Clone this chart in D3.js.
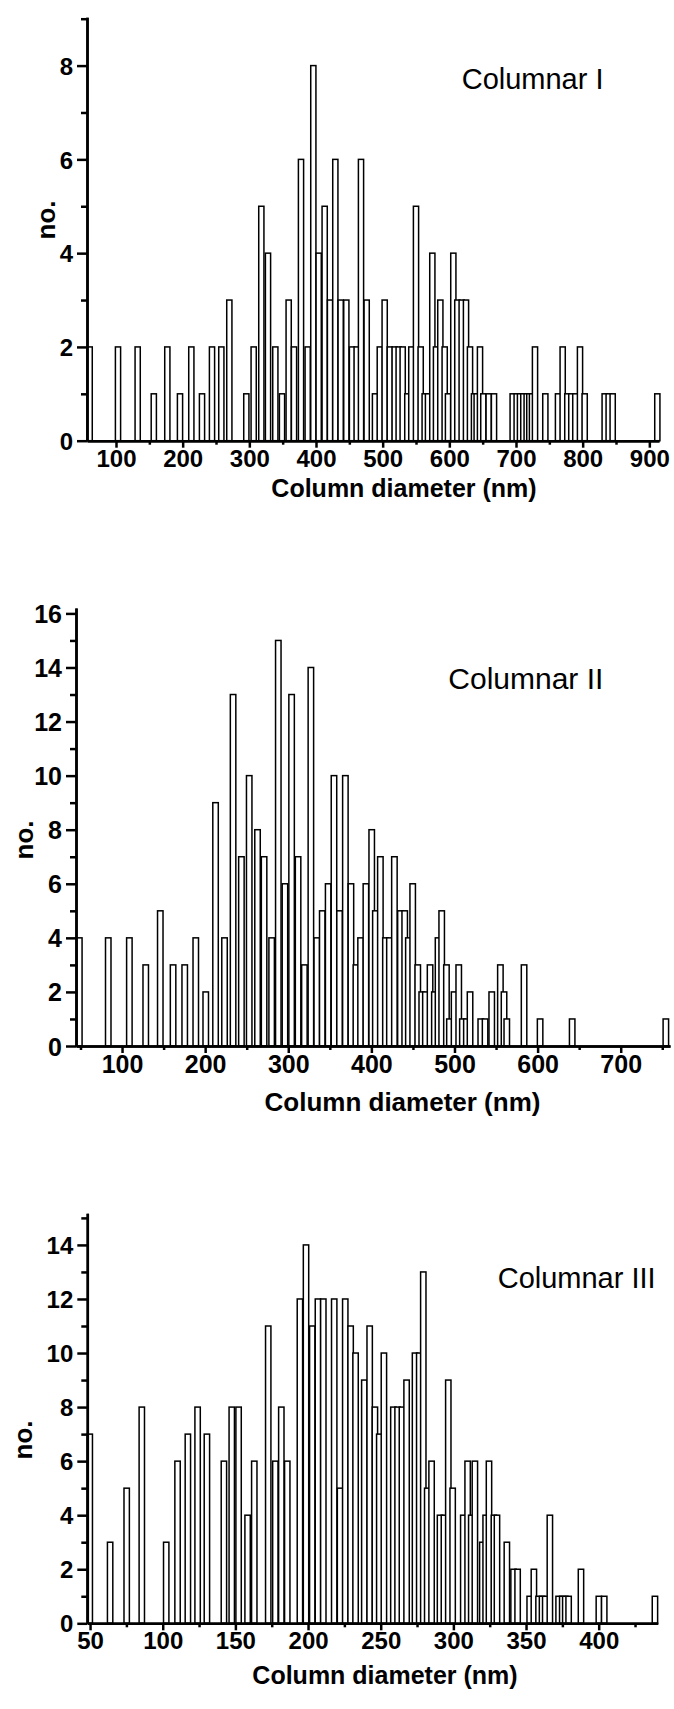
<!DOCTYPE html>
<html>
<head>
<meta charset="utf-8">
<title>Column diameter histograms</title>
<script src="https://cdn.jsdelivr.net/npm/d3@7"></script>
<style>
  html, body { margin:0; padding:0; background:#fff; }
  svg { display:block; font-family:"Liberation Sans", Arial, sans-serif; }
</style>
</head>
<body>
<svg width="674" height="1709"></svg>
<script>
// Columnar I : bar position (nm) and count
const diam1 = [60.5,103,132.5,156.7,177,196,213,229,244,258,
  270,295.5,306.5,318,328,339,349,359,367,377.5,
  387.5,396,404,413,421,429,437,445.5,454,461,
  467.5,476,488.5,495.7,503,510.7,518,524,530,537,
  543,550,557,563,568,574.5,580,586.5,593,598,
  606,612,618.5,625,631,637,641,646,651,659,
  667,695,701,706,711,716,720,724,728.5,744,
  763,770,777,783,789,796,803,833,839,845,912];
const count1 = [2,2,2,1,2,1,2,1,2,2,
  3,1,2,5,4,2,1,3,2,6,
  2,8,4,5,3,6,3,3,2,2,
  6,3,1,2,3,2,2,2,2,1,
  2,5,2,1,1,4,2,3,2,1,
  4,3,3,3,2,1,1,2,1,1,
  1,1,1,1,1,1,1,1,2,1,
  1,2,1,1,1,2,1,1,1,1,1];

// Columnar II
const diam2 = [48.6,83.4,108.8,128.5,146,161.4,175.4,188.7,200.7,212.5,
  223.3,233.6,243.6,253,263,270.9,280,288,296,304,
  311.8,319.4,327.2,334.3,340.9,348,355,361.7,368.7,375.4,
  381.4,387,393.4,400.4,404.8,410.8,416.9,421.7,427.7,434.9,
  440.1,444.5,449.7,455.8,460.6,465,470.6,475.8,480.2,484.6,
  490.3,493.9,499.5,505.1,509.5,514.3,518.7,531.6,536.8,544.8,
  555.2,559.6,562.9,583.7,603,641.6,754.3];
const count2 = [4,4,4,3,5,3,3,4,2,9,
  4,13,7,10,8,7,4,15,6,13,
  7,3,14,4,5,6,10,5,10,6,
  3,4,6,8,5,7,4,4,7,5,
  5,4,6,3,2,2,3,2,4,5,
  3,1,2,3,1,1,2,1,1,2,
  3,2,1,3,1,1,1];

// Columnar III
const diam3 = [49.8,63.8,75.2,85.6,102.4,110.2,117.3,124,130.4,142.1,
  147.5,152.2,158.4,163,172.6,177.5,181.6,185.7,194.4,198.6,
  202.9,206.8,210.5,218,222,225.6,229.3,232.7,238.7,242.4,
  246,249,252.2,258.7,261.6,264.6,267.8,273.6,276.5,279.3,
  282,285,290.8,293.5,296.5,299.5,306.8,309.8,312.3,314.8,
  319.9,322.2,324.5,327.9,330,336.8,341.4,344.2,352.5,355.4,
  358.6,361,363.2,366.4,372.4,374.9,377,379.3,387.8,400.1,
  403.8,438.7];
const count3 = [7,3,5,8,3,6,7,8,7,6,
  8,8,4,6,11,6,8,6,12,14,
  11,12,12,12,5,12,11,10,9,11,
  8,7,10,8,8,8,9,10,10,13,
  5,6,4,4,9,5,4,6,4,6,
  3,4,6,4,4,3,2,2,1,2,
  1,1,1,4,1,1,1,1,2,1,
  1,1];

const panels = [
  { label: "Columnar I", diam: diam1, count: count1, bw: 7.8,
    xd: [56.5, 914.5], xr: [87, 659], yd: [0, 9.03], yr: [440.7, 17.3],
    xMajor: d3.range(100, 901, 100), xMinor: d3.range(150, 851, 100),
    yMajor: [0, 2, 4, 6, 8], yMinor: [1, 3, 5, 7, 9],
    tickFont: 24, titleFont: 25, titleX: 404, titleY: 497,
    noX: 55, noY: 220, labX: 461.7, labY: 89, labFont: 29 },
  { label: "Columnar II", diam: diam2, count: count2, bw: 6.6,
    xd: [44.6, 759.3], xr: [76, 670], yd: [0, 16.2], yr: [1046, 608],
    xMajor: d3.range(100, 701, 100), xMinor: d3.range(50, 751, 100),
    yMajor: d3.range(0, 17, 2), yMinor: d3.range(1, 16, 2),
    tickFont: 25, titleFont: 26, titleX: 402.5, titleY: 1111,
    noX: 33.3, noY: 840, labX: 448.3, labY: 689.3, labFont: 30 },
  { label: "Columnar III", diam: diam3, count: count3, bw: 3.7,
    xd: [48.1, 440.6], xr: [87.3, 657.7], yd: [0, 15.17], yr: [1623.3, 1213.3],
    xMajor: d3.range(50, 401, 50), xMinor: d3.range(75, 426, 50),
    yMajor: d3.range(0, 15, 2), yMinor: d3.range(1, 16, 2),
    tickFont: 24, titleFont: 25, titleX: 385, titleY: 1684,
    noX: 32, noY: 1440, labX: 497.7, labY: 1288.3, labFont: 29 }
];

const svg = d3.select("svg");

panels.forEach(p => {
  const x = d3.scaleLinear().domain(p.xd).range(p.xr);
  const y = d3.scaleLinear().domain(p.yd).range(p.yr);
  const g = svg.append("g");
  const bars = p.diam.map((d, i) => ({ d: d, n: p.count[i] }));

  g.selectAll("rect")
    .data(bars)
    .enter()
    .append("rect")
    .attr("x", b => x(b.d - p.bw / 2))
    .attr("width", b => x(b.d + p.bw / 2) - x(b.d - p.bw / 2))
    .attr("y", b => y(b.n))
    .attr("height", b => y(0) - y(b.n))
    .attr("fill", "#fff")
    .attr("stroke", "#000")
    .attr("stroke-width", 1.5);

  const y0 = p.yr[0];
  const x0 = p.xr[0];

  // minor ticks
  g.append("g")
    .attr("transform", `translate(0,${y0})`)
    .call(d3.axisBottom(x).tickValues(p.xMinor).tickSize(4).tickSizeOuter(0).tickFormat(""));
  g.append("g")
    .attr("transform", `translate(${x0},0)`)
    .call(d3.axisLeft(y).tickValues(p.yMinor).tickSize(6).tickSizeOuter(0).tickFormat(""));

  // major ticks
  const xa = g.append("g")
    .attr("transform", `translate(0,${y0})`)
    .call(d3.axisBottom(x).tickValues(p.xMajor).tickSize(7).tickPadding(2).tickSizeOuter(0));
  const ya = g.append("g")
    .attr("transform", `translate(${x0},0)`)
    .call(d3.axisLeft(y).tickValues(p.yMajor).tickSize(10).tickPadding(4).tickSizeOuter(0));

  g.selectAll(".domain, .tick line")
    .attr("stroke", "#000")
    .attr("stroke-width", 2.5);
  [xa, ya].forEach(a => a.selectAll("text")
    .attr("fill", "#000")
    .style("font-size", p.tickFont + "px")
    .style("font-weight", "bold"));
  ya.selectAll("text").attr("dy", "0.36em");

  g.append("text")
    .attr("x", p.titleX)
    .attr("y", p.titleY)
    .attr("text-anchor", "middle")
    .style("font-size", p.titleFont + "px")
    .style("font-weight", "bold")
    .text("Column diameter (nm)");

  g.append("text")
    .attr("transform", `translate(${p.noX},${p.noY}) rotate(-90)`)
    .attr("text-anchor", "middle")
    .style("font-size", "26px")
    .style("font-weight", "bold")
    .text("no.");

  g.append("text")
    .attr("x", p.labX)
    .attr("y", p.labY)
    .style("font-size", p.labFont + "px")
    .text(p.label);
});
</script>
</body>
</html>
